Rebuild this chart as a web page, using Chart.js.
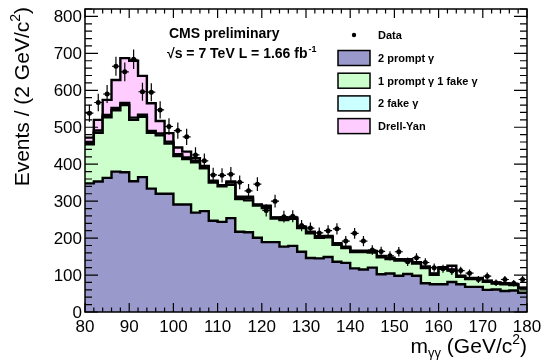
<!DOCTYPE html>
<html>
<head>
<meta charset="utf-8">
<script src="https://cdn.jsdelivr.net/npm/chart.js@4/dist/chart.umd.min.js"></script>
<style>
  html, body { margin: 0; padding: 0; background: #fff; }
  #massChart { display: block; }
</style>
</head>
<body>
<canvas id="massChart" width="542" height="360"></canvas>
<script>
// diphoton mass, 2 GeV bins from 80 to 180
const binLow = [80, 82, 84, 86, 88, 90, 92, 94, 96, 98,
  100, 102, 104, 106, 108, 110, 112, 114, 116, 118,
  120, 122, 124, 126, 128, 130, 132, 134, 136, 138,
  140, 142, 144, 146, 148, 150, 152, 154, 156, 158,
  160, 162, 164, 166, 168, 170, 172, 174, 176, 178];
const binWidth = 2;

const dataCounts = [538, 567, 590, 665, 650, 684, 596, 595, 547, 502,
  491, 474, 425, 409, 371, 370, 373, 351, 328, 346,
  275, 300, 258, 259, 234, 227, 214, 220, 225, 192,
  213, 192, 168, 164, 152, 163, 136, 147, 134, 120,
  117, 111, 112, 105, 88, 97, 79, 88, 78, 88];

const twoPrompt = [348, 353, 363, 380, 378, 354, 365, 334, 320, 320,
  291, 291, 269, 273, 247, 244, 254, 217, 216, 201,
  189, 189, 177, 179, 163, 146, 145, 149, 136, 133,
  118, 115, 120, 102, 104, 98, 103, 98, 78, 75,
  75, 81, 75, 68, 68, 60, 61, 57, 58, 52];

const onePromptOneFake = [106, 132, 164, 166, 182, 166, 163, 151, 158, 136,
  131, 123, 136, 116, 103, 96, 90, 89, 86, 87,
  92, 64, 72, 73, 64, 67, 56, 53, 46, 40,
  44, 47, 41, 46, 39, 41, 36, 33, 41, 26,
  42, 31, 20, 21, 21, 22, 16, 18, 15, 12];

const twoFake = [6, 6, 6, 6, 6, 6, 6, 5, 5, 5,
  5, 4, 4, 3, 3, 2, 6, 3, 6, 2,
  5, 2, 3, 2, 2, 2, 2, 2, 2, 2,
  2, 2, 2, 2, 2, 2, 2, 2, 2, 2,
  2, 3, 2, 2, 2, 2, 2, 2, 2, 1];

const drellYan = [12, 29, 41, 76, 121, 154, 105, 75, 34, 23,
  18, 16, 7, 3, 2, 1, 3, 3, 4, 1,
  2, 1, 2, 2, 2, 2, 2, 2, 2, 2,
  2, 2, 2, 2, 2, 2, 2, 2, 2, 1,
  2, 10, 1, 1, 1, 1, 1, 1, 1, 1];

const xTicks = [80, 90, 100, 110, 120, 130, 140, 150, 160, 170, 180];
const yTicks = [0, 100, 200, 300, 400, 500, 600, 700, 800];

const legendRows = [
  { label: "2 prompt \u03b3", color: "#9999cc" },
  { label: "1 prompt \u03b3 1 fake \u03b3", color: "#ccffcc" },
  { label: "2 fake \u03b3", color: "#ccffff" },
  { label: "Drell-Yan", color: "#ffccff" }
];

const FONT = "'Liberation Sans', Arial, Helvetica, sans-serif";

// running sum of the stack, as step points on the bin edges
function stackSteps(parts) {
  const pts = [];
  let last = 0;
  for (let i = 0; i < binLow.length; i++) {
    let sum = 0;
    parts.forEach(p => { sum += p[i]; });
    pts.push({ x: binLow[i], y: sum });
    last = sum;
  }
  pts.push({ x: binLow[binLow.length - 1] + binWidth, y: last });
  return pts;
}

function histDataset(label, parts, color) {
  return {
    label: label,
    data: stackSteps(parts),
    stepped: true,
    borderColor: "#000",
    borderWidth: 2.4,
    backgroundColor: color,
    fill: "origin",
    pointRadius: 0,
    tension: 0
  };
}

const dataPoints = dataCounts.map((n, i) => ({ x: binLow[i] + binWidth / 2, y: n }));

function drawSup(ctx, base, sup, x, y, size, supSize, rise) {
  ctx.font = "bold " + size + "px " + FONT;
  ctx.fillText(base, x, y);
  let w = ctx.measureText(base).width;
  ctx.font = "bold " + supSize + "px " + FONT;
  ctx.fillText(sup, x + w + 1, y - rise);
}

const rootFrame = {
  id: "rootFrame",
  afterDatasetsDraw(chart) {
    const ctx = chart.ctx;
    const xs = chart.scales.x, ys = chart.scales.y;
    const meta = chart.getDatasetMeta(0);
    ctx.save();
    ctx.strokeStyle = "#000";
    ctx.lineWidth = 1.2;
    meta.data.forEach((pt, i) => {
      const n = dataCounts[i];
      const err = Math.sqrt(n);
      const c = dataPoints[i].x;
      ctx.beginPath();
      ctx.moveTo(pt.x, ys.getPixelForValue(n + err));
      ctx.lineTo(pt.x, ys.getPixelForValue(n - err));
      ctx.moveTo(xs.getPixelForValue(c - 0.9), pt.y);
      ctx.lineTo(xs.getPixelForValue(c + 0.9), pt.y);
      ctx.stroke();
    });
    ctx.restore();
  },
  afterDraw(chart) {
    const ctx = chart.ctx;
    const a = chart.chartArea;
    const xs = chart.scales.x, ys = chart.scales.y;
    ctx.save();

    // frame
    ctx.strokeStyle = "#000";
    ctx.lineWidth = 1.5;
    ctx.strokeRect(a.left, a.top, a.right - a.left, a.bottom - a.top);

    // ticks drawn inside the frame on all four sides
    ctx.lineWidth = 1.2;
    ctx.beginPath();
    for (let v = 0; v <= 820; v += 20) {
      const y = ys.getPixelForValue(v);
      const len = v % 100 === 0 ? 13 : 7;
      ctx.moveTo(a.left, y); ctx.lineTo(a.left + len, y);
      ctx.moveTo(a.right, y); ctx.lineTo(a.right - len, y);
    }
    for (let m = 80; m <= 180; m += 2) {
      const x = xs.getPixelForValue(m);
      const len = m % 10 === 0 ? 9 : 4.5;
      ctx.moveTo(x, a.bottom); ctx.lineTo(x, a.bottom - len);
      ctx.moveTo(x, a.top); ctx.lineTo(x, a.top + len);
    }
    ctx.stroke();

    // tick labels
    ctx.fillStyle = "#000";
    ctx.font = "17px " + FONT;
    ctx.textAlign = "right";
    ctx.textBaseline = "alphabetic";
    yTicks.forEach(v => {
      ctx.fillText(String(v), a.left - 3, ys.getPixelForValue(v) + 6);
    });
    ctx.textAlign = "center";
    xTicks.forEach(m => {
      ctx.fillText(String(m), xs.getPixelForValue(m), a.bottom + 20);
    });

    // axis titles
    ctx.textAlign = "left";
    const big = "21px " + FONT, sup = "14px " + FONT;
    const t1 = "Events / (2 GeV/c", t2 = ")";
    ctx.font = big;
    const w1 = ctx.measureText(t1).width;
    const w2 = ctx.measureText(t2).width;
    ctx.font = sup;
    const ws = ctx.measureText("2").width;
    const total = w1 + ws + w2;
    ctx.save();
    ctx.translate(29, 7);
    ctx.rotate(-Math.PI / 2);
    ctx.font = big;
    ctx.fillText(t1, -total, 0);
    ctx.font = sup;
    ctx.fillText("2", -total + w1, -9);
    ctx.font = big;
    ctx.fillText(t2, -total + w1 + ws, 0);
    ctx.restore();

    // m_yy (GeV/c^2), right aligned to the frame
    const xb = 353;
    ctx.font = big;
    const wm = ctx.measureText("m").width;
    const wp = ctx.measureText(" (GeV/c").width;
    const wc = ctx.measureText(")").width;
    ctx.font = "13px " + FONT;
    const wg = ctx.measureText("\u03b3\u03b3").width;
    ctx.font = sup;
    const w2x = ctx.measureText("2").width;
    let x0 = a.right - (wm + wg + wp + w2x + wc);
    ctx.font = big;
    ctx.fillText("m", x0, xb);
    ctx.font = "13px " + FONT;
    ctx.fillText("\u03b3\u03b3", x0 + wm, xb + 4);
    ctx.font = big;
    ctx.fillText(" (GeV/c", x0 + wm + wg, xb);
    ctx.font = sup;
    ctx.fillText("2", x0 + wm + wg + wp, xb - 9);
    ctx.font = big;
    ctx.fillText(")", x0 + wm + wg + wp + w2x, xb);

    // experiment label
    ctx.font = "bold 14px " + FONT;
    ctx.fillText("CMS preliminary", 169, 38);
    drawSup(ctx, "\u221as = 7 TeV L = 1.66 fb", "-1", 167, 58, 14, 9, 6);

    // legend
    ctx.font = "bold 11px " + FONT;
    ctx.beginPath();
    ctx.arc(354, 35, 2.2, 0, Math.PI * 2);
    ctx.fill();
    ctx.fillText("Data", 378, 39);
    legendRows.forEach((r, i) => {
      const cy = 58 + i * 22.7;
      ctx.fillStyle = r.color;
      ctx.fillRect(338, cy - 7.5, 32, 15);
      ctx.strokeStyle = "#000";
      ctx.lineWidth = 1.5;
      ctx.strokeRect(338, cy - 7.5, 32, 15);
      ctx.fillStyle = "#000";
      ctx.fillText(r.label, 378, cy + 4);
    });

    ctx.restore();
  }
};

new Chart(document.getElementById("massChart"), {
  type: "line",
  data: {
    datasets: [
      {
        type: "scatter",
        label: "Data",
        data: dataPoints,
        pointRadius: 2.5,
        pointBackgroundColor: "#000",
        pointBorderWidth: 0,
        showLine: false
      },
      histDataset("2 prompt", [twoPrompt], "#9999cc"),
      histDataset("1 prompt 1 fake", [twoPrompt, onePromptOneFake], "#ccffcc"),
      histDataset("2 fake", [twoPrompt, onePromptOneFake, twoFake], "#ccffff"),
      histDataset("Drell-Yan", [twoPrompt, onePromptOneFake, twoFake, drellYan], "#ffccff")
    ]
  },
  options: {
    responsive: false,
    animation: false,
    devicePixelRatio: 1,
    layout: { padding: { left: 85, right: 15, top: 9, bottom: 48 } },
    plugins: {
      legend: { display: false },
      tooltip: { enabled: false }
    },
    scales: {
      x: { type: "linear", min: 80, max: 180, display: false },
      y: { type: "linear", min: 0, max: 820, display: false }
    }
  },
  plugins: [rootFrame]
});
</script>
</body>
</html>
